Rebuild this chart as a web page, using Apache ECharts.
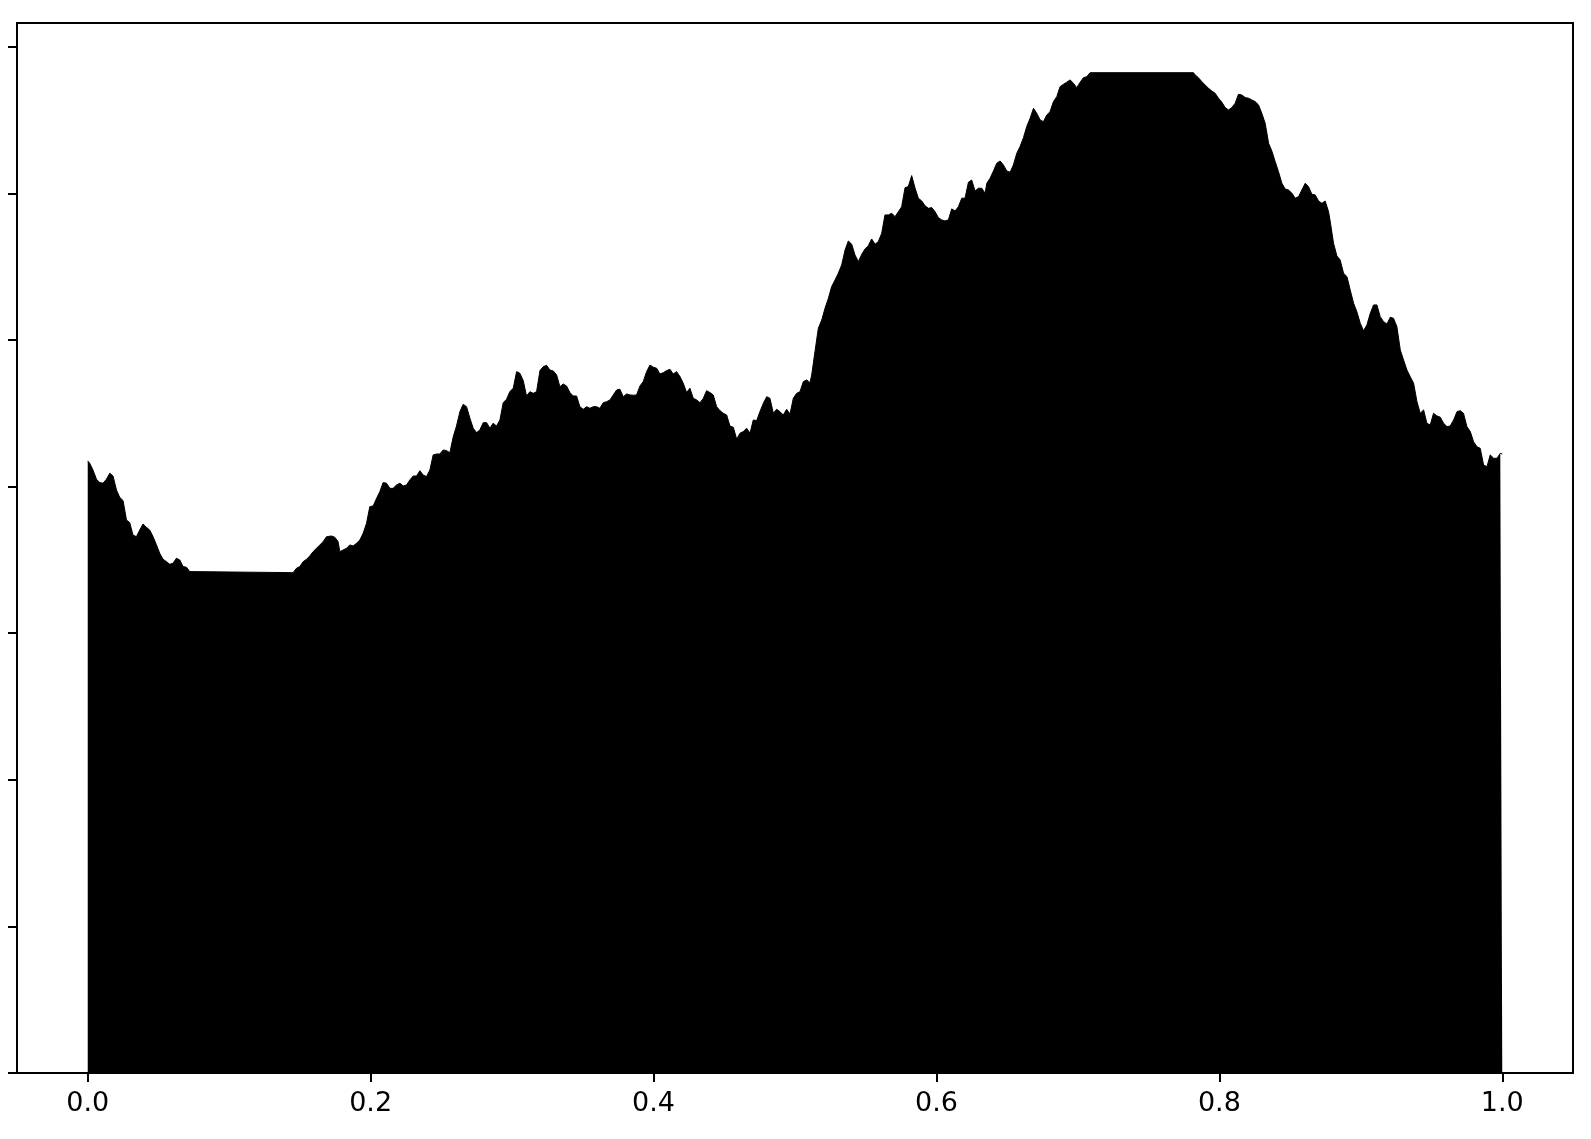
<!DOCTYPE html>
<html>
<head>
<meta charset="utf-8">
<script src="https://cdn.jsdelivr.net/npm/echarts@6/dist/echarts.min.js"></script>
<style>
html,body{margin:0;padding:0;background:#fff;}
#chart{width:1591px;height:1139px;}
</style>
</head>
<body>
<div id="chart"></div>
<script>
// x positions (0..1)
const xs = [
0,0.0014,0.0037,0.0062,0.0085,0.0108,0.0132,0.0156,0.0179,0.0203,0.0226,0.0250,0.0274,0.0297,0.0320,0.0344,0.0368,0.0391,0.0415,0.0438,0.0462,0.0486,0.0509,0.0533,0.0557,0.0580,0.0603,0.0627,0.0651,0.0674,0.0698,0.0721,0.0733,
0.1452,0.1476,0.1499,0.1523,0.1547,0.1570,0.1593,0.1617,0.1641,0.1664,0.1688,0.1699,0.1723,0.1747,0.1770,0.1782,0.1806,0.1830,0.1853,0.1876,0.1900,0.1924,0.1947,0.1971,0.1994,0.2018,0.2042,0.2065,0.2088,0.2112,0.2136,0.2159,0.2183,0.2207,0.2230,0.2254,0.2277,0.2301,0.2325,0.2348,0.2371,0.2395,0.2419,0.2442,0.2466,0.2489,0.2513,0.2537,0.2560,
0.2584,0.2607,0.2631,0.2654,0.2678,0.2702,0.2725,0.2749,0.2772,0.2796,0.2820,0.2843,0.2866,0.2890,0.2914,0.2937,0.2961,0.2984,0.3008,0.3032,0.3055,0.3079,0.3102,0.3126,0.3149,0.3173,0.3197,0.3220,0.3244,0.3267,0.3291,0.3315,0.3338,0.3361,0.3385,0.3409,0.3432,0.3456,0.3479,0.3503,0.3527,0.3550,0.3574,0.3597,0.3621,0.3644,0.3668,0.3692,0.3715,0.3739,0.3762,0.3786,0.3810,0.3833,
0.3856,0.3880,0.3904,0.3927,0.3951,0.3975,0.3998,0.4022,0.4045,0.4069,0.4093,0.4116,0.4139,0.4163,0.4187,0.4210,0.4234,0.4257,0.4281,0.4305,0.4328,0.4352,0.4375,0.4399,0.4422,0.4446,0.4470,0.4493,0.4517,0.4540,0.4564,0.4588,0.4611,0.4634,0.4658,0.4682,0.4705,0.4729,0.4752,0.4776,0.4800,0.4823,0.4847,0.4870,0.4894,0.4917,0.4941,0.4965,0.4988,0.5012,0.5035,0.5059,0.5083,0.5106,
0.5118,0.5141,0.5165,0.5189,0.5212,0.5236,0.5259,0.5283,0.5306,0.5330,0.5354,0.5377,0.5401,0.5424,0.5448,0.5472,0.5495,0.5518,0.5542,0.5566,0.5589,0.5613,0.5636,0.5660,0.5684,0.5707,0.5731,0.5754,0.5778,0.5801,0.5825,0.5849,0.5872,0.5896,0.5919,0.5943,0.5967,0.5990,0.6014,0.6037,0.6061,0.6084,0.6108,0.6132,0.6155,0.6179,0.6202,0.6226,0.6249,0.6273,0.6297,0.6320,0.6344,
0.6356,0.6379,0.6403,0.6426,0.6450,0.6473,0.6497,0.6521,0.6544,0.6568,0.6591,0.6615,0.6638,0.6662,0.6686,0.6709,0.6733,0.6756,0.6780,0.6803,0.6827,0.6851,0.6874,0.6898,0.6921,0.6945,0.6968,0.6992,0.7016,0.7039,0.7063,0.7086,
0.7817,0.7829,0.7852,0.7876,0.7900,0.7923,0.7947,0.7970,0.7994,0.8018,0.8041,0.8065,0.8088,0.8112,0.8135,0.8159,0.8183,0.8206,0.8230,0.8253,0.8277,0.8300,0.8324,0.8348,0.8371,0.8395,0.8418,0.8442,0.8465,0.8489,0.8513,0.8536,0.8560,0.8583,0.8607,0.8630,0.8654,0.8678,0.8701,0.8725,0.8748,0.8772,0.8784,
0.8807,0.8831,0.8854,0.8878,0.8902,0.8925,0.8949,0.8972,0.8996,0.9019,0.9043,0.9067,0.9090,0.9114,0.9137,0.9161,0.9185,0.9208,0.9231,0.9255,0.9279,0.9302,0.9326,0.9349,0.9373,0.9397,0.9420,0.9444,0.9467,0.9491,0.9514,0.9538,0.9562,0.9585,0.9609,0.9632,0.9656,0.9680,0.9703,0.9726,0.9750,0.9774,0.9797,0.9821,0.9844,0.9868,0.9892,0.9915,0.9939,0.9963,0.9986,1.0
];
// series values
const ys = [
4.175,4.159,4.113,4.050,4.027,4.023,4.050,4.091,4.072,3.977,3.927,3.904,3.772,3.754,3.670,3.658,3.704,3.745,3.722,3.704,3.658,3.602,3.545,3.504,3.488,3.470,3.477,3.511,3.499,3.454,3.450,3.420,3.413,
3.413,3.443,3.454,3.488,3.504,3.527,3.556,3.579,3.602,3.624,3.658,3.670,3.663,3.654,3.624,3.556,3.568,3.579,3.602,3.595,3.613,3.636,3.681,3.750,3.863,3.868,3.920,3.965,4.027,4.023,3.988,3.988,4.011,4.023,4.004,4.011,4.045,4.072,4.072,4.108,4.079,4.068,4.113,4.216,4.222,4.222,4.250,4.245,4.231,
4.340,4.413,4.511,4.561,4.545,4.466,4.398,4.368,4.386,4.436,4.436,4.398,4.432,4.413,4.454,4.572,4.596,4.647,4.671,4.784,4.773,4.722,4.618,4.647,4.636,4.647,4.791,4.818,4.827,4.795,4.789,4.761,4.681,4.700,4.686,4.641,4.618,4.618,4.545,4.527,4.545,4.534,4.545,4.545,4.534,4.572,4.579,4.591,4.625,4.659,4.664,4.613,4.632,4.625,
4.623,4.625,4.686,4.716,4.784,4.829,4.814,4.807,4.768,4.777,4.791,4.800,4.768,4.784,4.750,4.705,4.641,4.671,4.602,4.591,4.572,4.602,4.654,4.641,4.625,4.545,4.518,4.500,4.488,4.413,4.404,4.323,4.364,4.375,4.398,4.364,4.454,4.450,4.511,4.568,4.613,4.602,4.500,4.527,4.511,4.488,4.527,4.495,4.602,4.636,4.647,4.716,4.727,4.709,
4.761,4.920,5.080,5.136,5.216,5.284,5.364,5.409,5.455,5.512,5.614,5.675,5.653,5.580,5.534,5.585,5.621,5.643,5.689,5.653,5.671,5.728,5.853,5.853,5.864,5.841,5.875,5.909,6.039,6.046,6.121,6.035,5.967,5.948,5.916,5.898,5.903,5.875,5.834,5.819,5.812,5.819,5.894,5.880,5.909,5.967,5.967,6.076,6.091,6.016,6.035,6.035,6.001,
6.069,6.103,6.153,6.205,6.221,6.194,6.153,6.144,6.194,6.274,6.319,6.380,6.455,6.512,6.580,6.546,6.501,6.489,6.535,6.557,6.626,6.660,6.728,6.744,6.758,6.774,6.751,6.721,6.758,6.789,6.796,6.823,
6.823,6.808,6.789,6.762,6.739,6.717,6.698,6.683,6.649,6.621,6.585,6.569,6.585,6.615,6.676,6.671,6.653,6.649,6.637,6.626,6.603,6.546,6.478,6.342,6.289,6.216,6.148,6.069,6.030,6.023,6.001,5.967,5.978,6.023,6.069,6.046,5.994,5.989,5.948,5.932,5.948,5.875,5.807,
5.660,5.573,5.546,5.455,5.432,5.341,5.250,5.193,5.114,5.063,5.102,5.182,5.239,5.239,5.159,5.125,5.109,5.155,5.148,5.091,4.932,4.864,4.795,4.750,4.705,4.579,4.500,4.523,4.432,4.420,4.500,4.482,4.473,4.432,4.409,4.413,4.454,4.511,4.518,4.500,4.409,4.375,4.306,4.272,4.261,4.147,4.136,4.216,4.193,4.193,4.227,4.222
];
const xTickValues = [0, 0.2, 0.4, 0.6, 0.8, 1.0];
const yTickValues = [0, 1, 2, 3, 4, 5, 6, 7];

const data = xs.map((x, i) => [x, ys[i]]);

const chart = echarts.init(document.getElementById('chart'), null, {renderer: 'canvas'});
chart.setOption({
  animation: false,
  backgroundColor: '#fff',
  grid: {left: 17, right: 18, top: 23, bottom: 66, show: true, borderColor: '#000', borderWidth: 2, backgroundColor: 'transparent'},
  xAxis: {
    type: 'value', min: -0.05, max: 1.05,
    splitLine: {show: false},
    axisLine: {show: false, onZero: false},
    axisTick: {show: true, inside: false, length: 9, lineStyle: {color: '#000', width: 2}, customValues: xTickValues},
    axisLabel: {show: true, color: '#000', fontSize: 27, fontFamily: 'DejaVu Sans', margin: 17,
      customValues: xTickValues, formatter: v => v.toFixed(1)}
  },
  yAxis: {
    type: 'value', min: 0, max: 7.162,
    splitLine: {show: false},
    axisLine: {show: false, onZero: false},
    axisTick: {show: true, inside: false, length: 9, lineStyle: {color: '#000', width: 2}, customValues: yTickValues},
    axisLabel: {show: false}
  },
  series: [{
    type: 'line',
    data: data,
    showSymbol: false,
    symbol: 'none',
    lineStyle: {color: '#000', width: 1},
    areaStyle: {color: '#000', opacity: 1},
    silent: true
  }]
});
</script>
</body>
</html>
